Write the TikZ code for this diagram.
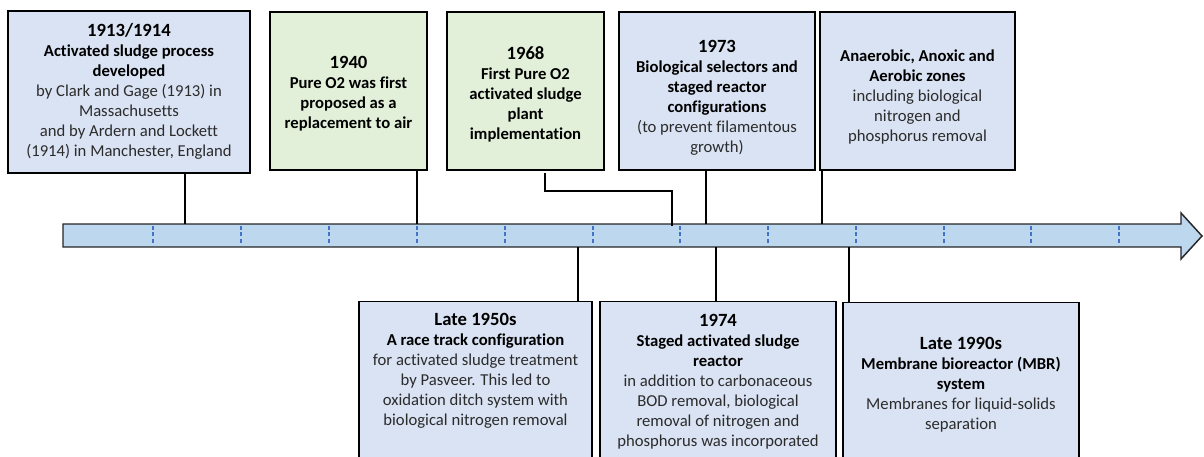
\documentclass[tikz,border=0pt]{standalone}
\usepackage{fontspec}
\setmainfont[Ligatures=NoCommon]{Carlito}
\definecolor{boxblue}{HTML}{DAE3F3}
\definecolor{boxgreen}{HTML}{E2F0D9}
\definecolor{barblue}{HTML}{BDD7EE}
\definecolor{tickblue}{HTML}{4472C4}
\definecolor{txtgrey}{HTML}{2B2B2B}
\newcommand{\tlTitle}[1]{{\fontsize{14}{15}\selectfont\bfseries\color{black}#1}}
\newcommand{\tlBold}[1]{{\bfseries\color{black}#1}}
\begin{document}
\begin{tikzpicture}[x=0.75pt,y=-0.75pt,
  box/.style={draw=black, line width=1.1pt, inner sep=0pt},
  bluebox/.style={box, fill=boxblue},
  greenbox/.style={box, fill=boxgreen},
  txt/.style={align=center, text=txtgrey, font=\fontsize{12.5}{15}\selectfont, inner sep=0pt},
  conn/.style={line width=1.1pt, draw=black},
  tickline/.style={draw=tickblue, dash pattern=on 3pt off 2pt, line width=0.8pt},
  bar/.style={draw=black!85, line width=1.1pt, fill=barblue}]
\useasboundingbox (0,0) rectangle (1204,457);
\clip (0,0) rectangle (1204,457);

% timeline arrow
\draw[bar] (63,224) -- (1181,224) -- (1181,213) -- (1202,236) -- (1181,259) -- (1181,247) -- (63,247) -- cycle;
\foreach \tx in {153,241,329,417,505,593,680,768,856,944,1031,1119}
  \draw[tickline] (\tx,225.5) -- (\tx,245.5);

% upper boxes
\node[bluebox, minimum width=181.5pt, minimum height=121.5pt] (b1) at (129,92) {};
\node[greenbox, minimum width=117.75pt, minimum height=118.5pt] (b2) at (348.5,91) {};
\node[greenbox, minimum width=117.75pt, minimum height=118.5pt] (b3) at (525.5,91) {};
\node[bluebox, minimum width=147pt, minimum height=118.5pt] (b4) at (717,91) {};
\node[bluebox, minimum width=146.25pt, minimum height=118.5pt] (b5) at (917.5,91) {};

% lower boxes
\node[bluebox, anchor=north, minimum width=174.75pt, minimum height=150pt] (b6) at (475.5,301) {};
\node[bluebox, anchor=north, minimum width=177pt, minimum height=150pt] (b7) at (718,301) {};
\node[bluebox, anchor=north, minimum width=177pt, minimum height=150pt] (b8) at (961,302) {};

% texts
\node[txt] (t1) at (129,91) {\tlTitle{1913/1914}\\ \tlBold{Activated sludge process}\\ \tlBold{developed}\\ by Clark and Gage (1913) in\\ Massachusetts\\ and by Ardern and Lockett\\ (1914) in Manchester, England};
\node[txt] (t2) at (348.5,93.5) {\tlTitle{1940}\\ \tlBold{Pure O2 was first}\\ \tlBold{proposed as a}\\ \tlBold{replacement to air}};
\node[txt] (t3) at (525.5,94.5) {\tlTitle{1968}\\ \tlBold{First Pure O2}\\ \tlBold{activated sludge}\\ \tlBold{plant}\\ \tlBold{implementation}};
\node[txt] (t4) at (717,97.5) {\tlTitle{1973}\\ \tlBold{Biological selectors and}\\ \tlBold{staged reactor}\\ \tlBold{configurations}\\ (to prevent filamentous\\ growth)};
\node[txt] (t5) at (917.5,96.5) {\tlBold{Anaerobic, Anoxic and}\\ \tlBold{Aerobic zones}\\ including biological\\ nitrogen and\\ phosphorus removal};
\node[txt] (t6) at (475.5,370.5) {\tlTitle{Late 1950s}\\ \tlBold{A race track configuration}\\ for activated sludge treatment\\ by Pasveer. This led to\\ oxidation ditch system with\\ biological nitrogen removal};
\node[txt] (t7) at (718,382) {\tlTitle{1974}\\ \tlBold{Staged activated sludge}\\ \tlBold{reactor}\\ in addition to carbonaceous\\ BOD removal, biological\\ removal of nitrogen and\\ phosphorus was incorporated};
\node[txt] (t8) at (961,385) {\tlTitle{Late 1990s}\\ \tlBold{Membrane bioreactor (MBR)}\\ \tlBold{system}\\ Membranes for liquid-solids\\ separation};

% attachment points on the timeline
\coordinate (a1) at (185,224);
\coordinate (a2) at (417,224);
\coordinate (a3) at (672,226);
\coordinate (a4) at (706,224);
\coordinate (a5) at (822,224);
\coordinate (a6) at (578,247);
\coordinate (a7) at (716,247);
\coordinate (a8) at (849,247);
\coordinate (k3) at (545,173);

% connectors
\draw[conn] (b1.south -| a1) -- (a1);
\draw[conn] (b2.south -| a2) -- (a2);
\draw[conn] (k3) -- ++(0,18) -| (a3);
\draw[conn] (b4.south -| a4) -- (a4);
\draw[conn] (b5.south -| a5) -- (a5);
\draw[conn] (a6) -- (b6.north -| a6);
\draw[conn] (a7) -- (b7.north -| a7);
\draw[conn] (a8) -- (b8.north -| a8);
\end{tikzpicture}
\end{document}
